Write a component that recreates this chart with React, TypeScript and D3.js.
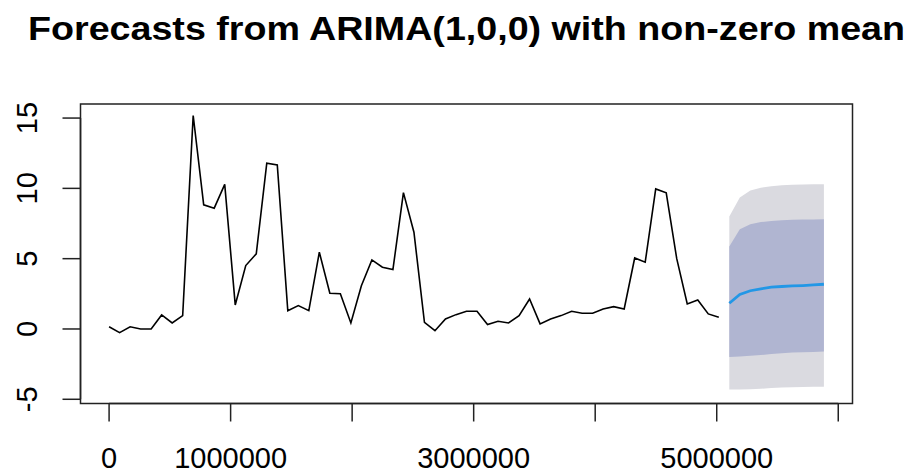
import React from "react";
import * as d3 from "d3";

// Observed series (time-series values)
const observed: number[] = [
  0.16, -0.26, 0.16, 0.0, 0.0, 1.0, 0.43, 0.95, 15.18, 8.83,
  8.59, 10.28, 1.71, 4.51, 5.34, 11.79, 11.67, 1.3, 1.66, 1.3,
  5.46, 2.54, 2.5, 0.43, 3.08, 4.91, 4.39, 4.22, 9.7, 6.88,
  0.47, -0.12, 0.71, 1.02, 1.26, 1.26, 0.31, 0.55, 0.43, 0.95,
  2.13, 0.36, 0.71, 0.95, 1.26, 1.12, 1.12, 1.42, 1.59, 1.42,
  5.05, 4.75, 9.96, 9.68, 5.0, 1.78, 2.06, 1.07, 0.83,
];

// Forecast (h = 10)
const fcMean: number[] = [1.83, 2.45, 2.72, 2.86, 2.97, 3.02, 3.06, 3.09, 3.13, 3.18];
const lo80: number[] = [-2.0, -1.95, -1.9, -1.85, -1.78, -1.72, -1.68, -1.65, -1.63, -1.61];
const hi80: number[] = [5.86, 7.1, 7.45, 7.6, 7.68, 7.73, 7.76, 7.78, 7.79, 7.8];
const lo95: number[] = [-4.3, -4.3, -4.28, -4.25, -4.2, -4.17, -4.14, -4.12, -4.11, -4.1];
const hi95: number[] = [8.0, 9.35, 9.85, 10.05, 10.15, 10.22, 10.26, 10.28, 10.29, 10.3];

// time index: start and step of the series
const tStart = 0;
const tStep = 86500;

const xTicks: number[] = [0, 1000000, 2000000, 3000000, 4000000, 5000000, 6000000];
const xTickLabels: string[] = ["0", "1000000", "", "3000000", "", "5000000", ""];
const yTicks: number[] = [-5, 0, 5, 10, 15];
const yDomain: [number, number] = [-5.3, 16.0];

const title = "Forecasts from ARIMA(1,0,0) with non-zero mean";

const W = 913;
const H = 475;
const left = 80.5;
const right = 852.5;
const top = 104;
const bottom = 403.5;

export default function App() {
  const n = observed.length;
  const N = n + fcMean.length;
  const tEnd = tStart + (N - 1) * tStep;
  const span = tEnd - tStart;
  const x = d3
    .scaleLinear()
    .domain([tStart - 0.04 * span, tEnd + 0.04 * span])
    .range([left, right]);
  const y = d3.scaleLinear().domain(yDomain).range([bottom, top]);

  const obsPts: [number, number][] = observed.map((v, i) => [tStart + i * tStep, v]);
  const fcT = fcMean.map((_, i) => tStart + (n + i) * tStep);

  const line = d3
    .line<[number, number]>()
    .x((d) => x(d[0]))
    .y((d) => y(d[1]));

  const area = (lo: number[], hi: number[]) =>
    d3
      .area<number>()
      .x((_, i) => x(fcT[i]))
      .y0((_, i) => y(lo[i]))
      .y1((_, i) => y(hi[i]))(fcMean) || "";

  const fcLine = line(fcMean.map((v, i) => [fcT[i], v] as [number, number])) || "";

  const font = "'Liberation Sans', Arial, sans-serif";

  return (
    <svg
      width={W}
      height={H}
      style={{ position: "fixed", left: 0, top: 0, background: "#fff" }}
    >
      <rect x={0} y={0} width={W} height={H} fill="#fff" />
      <text
        x={(left + right) / 2}
        y={39.5}
        textAnchor="middle"
        fontFamily={font}
        fontWeight="bold"
        fontSize={34}
        textLength={877}
        lengthAdjust="spacingAndGlyphs"
        fill="#000"
      >
        {title}
      </text>

      <path d={area(lo95, hi95)} fill="#dadae0" stroke="none" />
      <path d={area(lo80, hi80)} fill="#b0b5d1" stroke="none" />
      <path d={line(obsPts) || ""} fill="none" stroke="#000" strokeWidth={1.6} />
      <path d={fcLine} fill="none" stroke="#2297E6" strokeWidth={2.8} />

      <rect
        x={left}
        y={top}
        width={right - left}
        height={bottom - top}
        fill="none"
        stroke="#222"
        strokeWidth={1.5}
      />

      {/* y axis */}
      <line x1={left} x2={left} y1={y(yTicks[0])} y2={y(yTicks[yTicks.length - 1])} stroke="#222" strokeWidth={1.5} />
      {yTicks.map((t) => (
        <g key={"y" + t}>
          <line x1={left - 18} x2={left} y1={y(t)} y2={y(t)} stroke="#222" strokeWidth={1.5} />
          <text
            transform={`translate(${37},${y(t)}) rotate(-90)`}
            textAnchor="middle"
            fontFamily={font}
            fontSize={29}
            fill="#000"
          >
            {String(t)}
          </text>
        </g>
      ))}

      {/* x axis */}
      <line x1={x(xTicks[0])} x2={x(xTicks[xTicks.length - 1])} y1={bottom} y2={bottom} stroke="#222" strokeWidth={1.5} />
      {xTicks.map((t, i) => (
        <g key={"x" + t}>
          <line x1={x(t)} x2={x(t)} y1={bottom} y2={bottom + 18} stroke="#222" strokeWidth={1.5} />
          {xTickLabels[i] && (
            <text
              x={x(t)}
              y={468}
              textAnchor="middle"
              fontFamily={font}
              fontSize={29}
              fill="#000"
            >
              {xTickLabels[i]}
            </text>
          )}
        </g>
      ))}
    </svg>
  );
}
